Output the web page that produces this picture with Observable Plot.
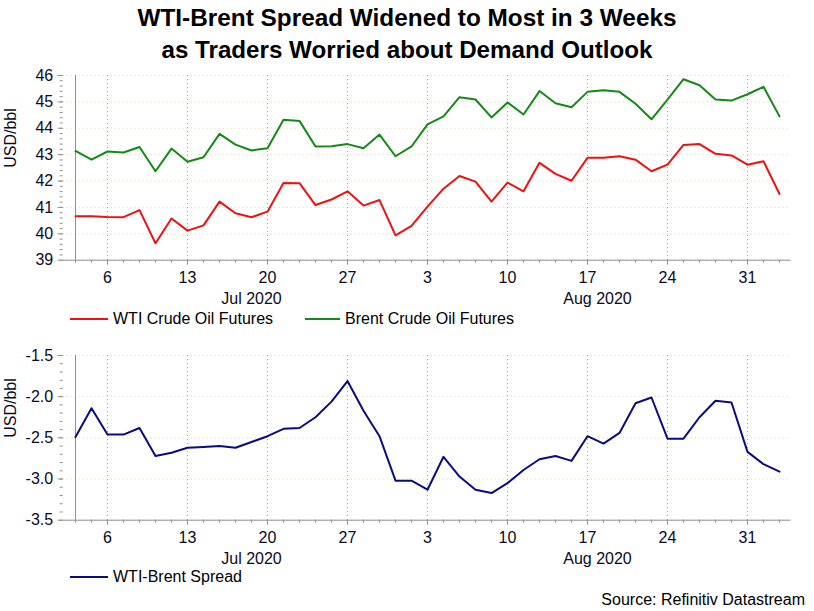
<!DOCTYPE html>
<html>
<head>
<meta charset="utf-8">
<script src="https://cdn.jsdelivr.net/npm/d3@7"></script>
<script src="https://cdn.jsdelivr.net/npm/@observablehq/plot@0.6"></script>
<style>
  html, body { margin: 0; padding: 0; background: #fff; }
  #root { position: relative; width: 814px; height: 611px; overflow: hidden; font-family: "Liberation Sans", Arial, sans-serif; }
  .tline { position: absolute; left: 407px; white-space: nowrap;
    font-family: "Liberation Sans", Arial, sans-serif;
    font-weight: bold; font-size: 24px; line-height: 30px; color: #000; transform-origin: 0 0; }
  .panel { position: absolute; left: 0; }
  .legend { position: absolute; left: 0; height: 20px; font-size: 16px; color: #000; }
  .legend .item { position: absolute; top: 0; white-space: nowrap; line-height: 20px; }
  .legend svg { position: absolute; top: 0; }
  #source { position: absolute; right: 9px; top: 591px; font-size: 16px; color: #000; }
</style>
</head>
<body>
<div id="root">
  <div id="t1" class="tline" style="top:3px">WTI-Brent Spread Widened to Most in 3 Weeks</div>
  <div id="t2" class="tline" style="top:35px">as Traders Worried about Demand Outlook</div>
  <div id="top" class="panel" style="top:62px"></div>
  <div id="legend1" class="legend" style="top:309px"></div>
  <div id="bottom" class="panel" style="top:342px"></div>
  <div id="legend2" class="legend" style="top:567px"></div>
  <div id="source">Source: Refinitiv Datastream</div>
</div>
<script>
// Trading days (x categories)
const dates = [
  "2020-07-02","2020-07-03",
  "2020-07-06","2020-07-07","2020-07-08","2020-07-09","2020-07-10",
  "2020-07-13","2020-07-14","2020-07-15","2020-07-16","2020-07-17",
  "2020-07-20","2020-07-21","2020-07-22","2020-07-23","2020-07-24",
  "2020-07-27","2020-07-28","2020-07-29","2020-07-30","2020-07-31",
  "2020-08-03","2020-08-04","2020-08-05","2020-08-06","2020-08-07",
  "2020-08-10","2020-08-11","2020-08-12","2020-08-13","2020-08-14",
  "2020-08-17","2020-08-18","2020-08-19","2020-08-20","2020-08-21",
  "2020-08-24","2020-08-25","2020-08-26","2020-08-27","2020-08-28",
  "2020-08-31","2020-09-01","2020-09-02"
];
const wti = [
  40.67, 40.67,
  40.64, 40.63, 40.90, 39.64, 40.58,
  40.12, 40.32, 41.22, 40.78, 40.63,
  40.84, 41.93, 41.92, 41.09, 41.30,
  41.61, 41.07, 41.28, 39.94, 40.30,
  41.03, 41.71, 42.19, 41.98, 41.22,
  41.94, 41.61, 42.69, 42.27, 42.01,
  42.88, 42.88, 42.94, 42.81, 42.37,
  42.62, 43.37, 43.40, 43.03, 42.97,
  42.62, 42.75, 41.51
];
const brent = [
  43.14, 42.81,
  43.12, 43.08, 43.29, 42.37, 43.23,
  42.73, 42.90, 43.79, 43.38, 43.16,
  43.24, 44.32, 44.28, 43.31, 43.32,
  43.40, 43.24, 43.76, 42.94, 43.31,
  44.15, 44.45, 45.18, 45.09, 44.41,
  44.98, 44.52, 45.41, 44.95, 44.80,
  45.38, 45.44, 45.38, 44.93, 44.34,
  45.09, 45.86, 45.63, 45.09, 45.05,
  45.29, 45.57, 44.45
];
const spread = [
  -2.49, -2.14,
  -2.46, -2.46, -2.38, -2.72, -2.68,
  -2.62, -2.61, -2.60, -2.62, -2.55,
  -2.48, -2.39, -2.38, -2.25, -2.06,
  -1.81, -2.17, -2.48, -3.02, -3.02,
  -3.13, -2.73, -2.97, -3.13, -3.17,
  -3.05, -2.89, -2.76, -2.72, -2.78,
  -2.48, -2.57, -2.44, -2.08, -2.01,
  -2.51, -2.51, -2.25, -2.05, -2.07,
  -2.67, -2.82, -2.91
];
// Major x ticks (Mondays) and month labels
const majorDates = ["2020-07-06","2020-07-13","2020-07-20","2020-07-27","2020-08-03","2020-08-10","2020-08-17","2020-08-24","2020-08-31"];
const julLabel = {date: "2020-07-17", label: "Jul 2020"};
const augLabel = {date: "2020-08-17", label: "Aug 2020"};
const topTicks = [39, 40, 41, 42, 43, 44, 45, 46];
const bottomTicks = [-3.5, -3.0, -2.5, -2.0, -1.5];
const yLabel = "USD/bbl";

const COL_WTI = "#ee1111", COL_BRENT = "#138a13", COL_SPREAD = "#0b0b80";
const FONT = "Liberation Sans, Arial, sans-serif";
const INK = "#0a0a25";

const rowsTop = dates.flatMap((date, i) => [
  {date, value: wti[i], series: "WTI"},
  {date, value: brent[i], series: "Brent"}
]);
const rowsBottom = dates.map((date, i) => ({date, value: spread[i], series: "Spread"}));

function panel({rows, yDomain, yTicks, yFmt, minorStep, height, marginBottom, color}) {
  const minorY = d3.range(yDomain[0], yDomain[1] + 1e-9, minorStep);
  return Plot.plot({
    width: 814, height,
    marginLeft: 62.7, marginRight: 23.3, marginTop: 13, marginBottom,
    style: {fontFamily: FONT, fontSize: "16px", color: INK, background: "transparent"},
    x: {type: "point", domain: dates, padding: 0, axis: null},
    y: {domain: yDomain, axis: null},
    color: color,
    marks: [
      Plot.gridY(yTicks, {stroke: "#e3d58c", strokeOpacity: 1, strokeDasharray: "1,3", strokeWidth: 1}),
      Plot.gridX(majorDates, {stroke: "#7fb3a3", strokeOpacity: 1, strokeDasharray: "1,3", strokeWidth: 1}),
      Plot.axisY(minorY, {tickSize: 3, tickFormat: () => "", stroke: "#909090", label: null}),
      Plot.axisY(yTicks, {tickSize: 5, tickPadding: 5, tickFormat: yFmt, stroke: "#909090", fontSize: 16, label: null}),
      Plot.axisX(dates, {tickSize: 3, tickFormat: () => "", stroke: "#909090", label: null}),
      Plot.axisX(majorDates, {tickSize: 5, tickPadding: 6, tickFormat: d => String(+d.slice(8)), stroke: "#909090", fontSize: 16, label: null}),
      Plot.ruleX([dates[0]], {stroke: "#909090"}),
      Plot.ruleY([yDomain[0]], {stroke: "#909090"}),
      Plot.text([julLabel], {x: "date", text: "label", frameAnchor: "bottom", lineAnchor: "middle", dy: 39, fontSize: 16, fill: INK}),
      Plot.text([augLabel], {x: "date", text: "label", frameAnchor: "bottom", lineAnchor: "middle", dy: 39, dx: 10, fontSize: 16, fill: INK}),
      Plot.text([yLabel], {frameAnchor: "left", dx: -52, rotate: -90, fontSize: 16, fill: INK}),
      Plot.line(rows, {x: "date", y: "value", z: "series", stroke: "series", strokeWidth: 2, curve: "linear"})
    ]
  });
}

document.getElementById("top").appendChild(panel({
  rows: rowsTop, yDomain: [39, 46], yTicks: topTicks, yFmt: d => String(d), minorStep: 0.2,
  height: 246, marginBottom: 48.3,
  color: {domain: ["WTI", "Brent"], range: [COL_WTI, COL_BRENT]}
}));
document.getElementById("bottom").appendChild(panel({
  rows: rowsBottom, yDomain: [-3.5, -1.5], yTicks: bottomTicks, yFmt: d => d.toFixed(1), minorStep: 0.1,
  height: 230, marginBottom: 52.3,
  color: {domain: ["Spread"], range: [COL_SPREAD]}
}));

function legend(el, items) {
  for (const it of items) {
    const sw = document.createElementNS("http://www.w3.org/2000/svg", "svg");
    sw.setAttribute("width", it.w); sw.setAttribute("height", 20);
    sw.style.left = it.x + "px";
    sw.innerHTML = `<line x1="0" x2="${it.w}" y1="10" y2="10" stroke="${it.color}" stroke-width="2"/>`;
    el.appendChild(sw);
    const t = document.createElement("div");
    t.className = "item"; t.style.left = (it.x + it.w + 5) + "px"; t.textContent = it.label;
    el.appendChild(t);
  }
}
legend(document.getElementById("legend1"), [
  {x: 70, w: 38, color: COL_WTI, label: "WTI Crude Oil Futures"},
  {x: 305, w: 35, color: COL_BRENT, label: "Brent Crude Oil Futures"}
]);
legend(document.getElementById("legend2"), [
  {x: 70, w: 38, color: COL_SPREAD, label: "WTI-Brent Spread"}
]);

// Condensed title: scale each line horizontally to the reference widths
function fitTitle(id, targetWidth) {
  const el = document.getElementById(id);
  const w = el.getBoundingClientRect().width;
  const s = targetWidth / w;
  el.style.transform = `translateX(${-targetWidth / 2}px) scaleX(${s})`;
}
fitTitle("t1", 539);
fitTitle("t2", 491);
</script>
</body>
</html>
